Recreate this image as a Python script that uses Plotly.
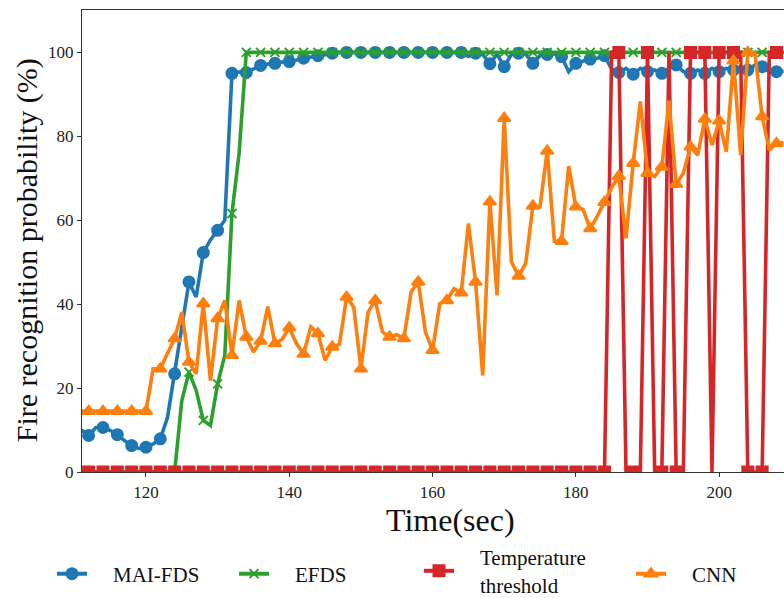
import plotly.graph_objects as go

time_s = list(range(111, 210))

mai_fds = [10.0, 8.7, 10.6, 10.6, 9.9, 8.9, 7.5, 6.3, 5.6, 5.9,
           6.7, 7.9, 13.0, 23.4, 34.6, 45.3, 41.7, 52.3, 55.3, 57.6,
           60.0, 95.0, 95.3, 95.2, 96.0, 96.9, 97.2, 97.4, 97.6, 97.8,
           98.2, 98.6, 98.9, 99.2, 99.6, 99.8, 100, 100, 100, 100,
           100, 100, 100, 100, 100, 100, 100, 100, 100, 100,
           100, 100, 100, 100, 99.0, 99.8, 99.5, 97.3, 99.6, 96.6,
           99.5, 99.8, 99.6, 97.4, 99.2, 99.5, 99.7, 99.0, 95.4, 97.4,
           98.0, 98.4, 98.6, 99.2, 96.0, 95.2, 96.2, 94.8, 96.2, 95.4,
           95.8, 95.0, 96.2, 97.0, 95.4, 95.0, 95.8, 95.0, 96.2, 95.4,
           96.2, 95.8, 96.6, 95.8, 97.0, 96.6, 95.4, 95.4, 95.5]

efds = [0] * 14 + [17.0, 23.8, 19.5, 12.3, 11.1, 21.0, 27.8, 61.6, 76.0] + [100] * 76

temp_threshold = [0] * 74 + [100, 100, 0, 0, 0, 100, 0, 0, 100, 0,
                             0, 100, 100, 100, 0, 100, 100, 100, 100, 0,
                             0, 0, 100, 100, 100]

cnn = [14.5] * 10 + [24.6, 24.6, 28.3, 31.8, 38.1, 26.2, 23.4, 40.1, 21.8, 36.6,
                     40.9, 27.8, 40.9, 32.2, 28.6, 31.2, 39.4, 30.6, 31.6, 34.4,
                     30.6, 28.1, 34.6, 33.0, 26.6, 29.8, 30.4, 41.7, 39.3, 24.6,
                     38.1, 40.9, 33.4, 32.2, 32.7, 31.8, 42.9, 45.3, 33.4, 29.0,
                     40.1, 40.9, 43.7, 42.7, 59.2, 45.3, 23.0, 64.4, 42.1, 84.3,
                     50.1, 46.7, 49.7, 63.4, 63.2, 76.5, 55.0, 55.0, 72.9, 63.2,
                     62.6, 58.0, 61.0, 64.3, 67.8, 70.5, 55.7, 73.6, 88.3, 71.2,
                     70.4, 72.7, 88.5, 68.6, 71.2, 77.5, 75.5, 84.1, 77.9, 83.7,
                     76.3, 98.0, 75.5, 100, 99.8, 84.7, 76.7, 78.3, 78.5]

legend_names = ["MAI-FDS", "EFDS", "Temperature<br>threshold", "CNN"]

series = [
    (legend_names[0], mai_fds, "#1f77b4", "circle", 11),
    (legend_names[1], efds, "#2ca02c", "x-thin", 9),
    (legend_names[2], temp_threshold, "#d62728", "square", 11),
    (legend_names[3], cnn, "#ff7f0e", "triangle-up", 11),
]

FONT = "Liberation Serif"
PAD = "\u00a0" * 4
legend_ids = ["legend", "legend2", "legend3", "legend4"]
legend_x = [52, 234, 419, 631]
legend_y = [574, 574, 571, 574]

fig = go.Figure()
for (name, vals, color, sym, ms), lid in zip(series, legend_ids):
    fig.add_trace(go.Scatter(x=time_s, y=vals, mode="lines",
                             line=dict(color=color, width=3.6),
                             showlegend=False, hoverinfo="skip"))
    mx = [t for t in time_s if t % 2 == 0]
    my = [v for t, v in zip(time_s, vals) if t % 2 == 0]
    fig.add_trace(go.Scatter(x=mx, y=my, mode="markers",
                             marker=dict(symbol=sym, size=ms, color=color,
                                         line=dict(color=color, width=2)),
                             showlegend=False))
    label = "<br>".join(PAD + part for part in name.split("<br>"))
    fig.add_trace(go.Scatter(x=[None], y=[None], mode="lines+markers", name=label,
                             legend=lid,
                             line=dict(color=color, width=4),
                             marker=dict(symbol=sym, size=ms, color=color,
                                         line=dict(color=color, width=2))))

legend_common = dict(xref="container", yref="container",
                     xanchor="left", yanchor="middle", valign="middle",
                     font=dict(family=FONT, size=21, color="#111"),
                     bgcolor="rgba(0,0,0,0)")
layout_legends = {}
for lid, lx, ly in zip(legend_ids, legend_x, legend_y):
    layout_legends[lid] = dict(x=lx / 784, y=1 - ly / 598, **legend_common)

fig.update_layout(
    width=784, height=598,
    margin=dict(l=82, r=0, t=10, b=126, autoexpand=False),
    paper_bgcolor="white", plot_bgcolor="white",
    font=dict(family=FONT, color="#222"),
    showlegend=True,
    **layout_legends,
)
fig.update_xaxes(range=[111.07, 209.05], tickvals=[120, 140, 160, 180, 200],
                 showgrid=False, zeroline=False, showline=True, linecolor="#333",
                 linewidth=1.3, mirror=True, ticks="outside", ticklen=4,
                 tickcolor="#333", tickfont=dict(family=FONT, size=17, color="#222"))
fig.update_yaxes(range=[0, 110.1], tickvals=[0, 20, 40, 60, 80, 100],
                 showgrid=False, zeroline=False, showline=True, linecolor="#333",
                 linewidth=1.3, ticks="outside", ticklen=4, tickcolor="#333",
                 tickfont=dict(family=FONT, size=17, color="#222"))
fig.add_annotation(text="Time(sec)", xref="paper", yref="paper",
                   x=(450 - 82) / 702, y=(471.5 - 519) / 461.5,
                   xanchor="center", yanchor="middle", showarrow=False,
                   font=dict(family=FONT, size=32, color="#111"))
fig.add_annotation(text="Fire recognition probability (%)", xref="paper", yref="paper",
                   x=(27 - 82) / 702, y=(471.5 - 250) / 461.5, textangle=-90,
                   xanchor="center", yanchor="middle", showarrow=False,
                   font=dict(family=FONT, size=30, color="#111"))
fig.write_html("out.html")
